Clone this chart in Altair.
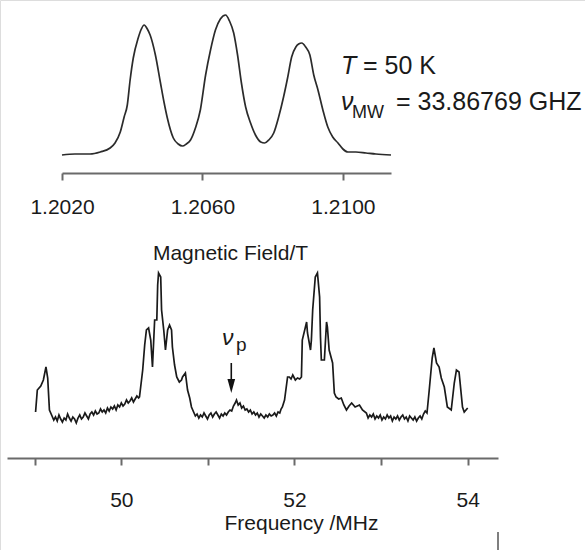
import altair as alt
import pandas as pd

# ---------------- data ----------------
# Top panel: EPR line, magnetic field (T) vs intensity (arb.)
field_T = [1.20200, 1.20237, 1.20280, 1.20309, 1.20337, 1.20351, 1.20366, 1.20377,
           1.20386, 1.20394, 1.20403, 1.20417, 1.20426, 1.20434, 1.20443, 1.20451,
           1.20466, 1.20480, 1.20491, 1.20500, 1.20517, 1.20531, 1.20543, 1.20554,
           1.20566, 1.20580, 1.20594, 1.20609, 1.20623, 1.20637, 1.20651, 1.20666,
           1.20677, 1.20689, 1.20700, 1.20711, 1.20723, 1.20737, 1.20751, 1.20766,
           1.20777, 1.20789, 1.20803, 1.20817, 1.20831, 1.20843, 1.20854, 1.20866,
           1.20874, 1.20883, 1.20894, 1.20906, 1.20917, 1.20929, 1.20943, 1.20957,
           1.20971, 1.20986, 1.21000, 1.21014, 1.21037, 1.21066, 1.21094, 1.21137]
epr_int = [0, 1, 1, 3, 7, 12, 23, 38,
           50, 75, 97, 117, 126, 130, 126, 120,
           100, 73, 52, 37, 17, 11, 9, 11,
           15, 27, 45, 80, 105, 125, 136, 140,
           134, 122, 100, 72, 48, 32, 20, 13,
           12, 15, 22, 38, 58, 78, 98, 108,
           111, 112, 108, 100, 80, 65, 45, 28,
           18, 12, 6, 3, 3, 2, 1, 0]

# Bottom panel: ENDOR spectrum, frequency (MHz) vs intensity (arb.)
freq_MHz = [
    # small line near 49.1 MHz
    49.01, 49.03, 49.07, 49.10, 49.13, 49.15, 49.17,
    # noisy baseline
    49.20, 49.22, 49.24, 49.26, 49.28, 49.30, 49.32, 49.34, 49.36, 49.38,
    49.40, 49.42, 49.44, 49.46, 49.48, 49.50, 49.52, 49.54, 49.56, 49.58,
    49.60, 49.62, 49.64, 49.66, 49.68, 49.70, 49.72, 49.74, 49.76, 49.78,
    49.80, 49.82, 49.84, 49.86, 49.88, 49.90, 49.92, 49.94, 49.96, 49.98,
    50.00, 50.02, 50.04, 50.06, 50.08, 50.10, 50.12, 50.14, 50.16, 50.18,
    50.20, 50.21,
    # line group near 50.4 MHz
    50.247, 50.27, 50.29, 50.315, 50.34, 50.36, 50.385, 50.41, 50.42, 50.43,
    50.455, 50.465, 50.49, 50.51, 50.535, 50.557, 50.58, 50.59, 50.615, 50.64,
    50.67, 50.695, 50.707, 50.74, 50.765, 50.79, 50.81,
    # noisy baseline with the nu_p bump
    50.835, 50.855, 50.875, 50.895, 50.915, 50.935, 50.955, 50.975, 50.995, 51.015,
    51.035, 51.055, 51.075, 51.095, 51.115, 51.135, 51.155, 51.175, 51.195, 51.215,
    51.235, 51.255, 51.275, 51.295, 51.315, 51.33, 51.35, 51.37, 51.39, 51.41,
    51.43, 51.45, 51.47, 51.49, 51.51, 51.53, 51.55, 51.57, 51.59, 51.61,
    51.63, 51.65, 51.67, 51.69, 51.71, 51.73, 51.75, 51.77, 51.79, 51.81,
    51.83, 51.845,
    # line group near 52.25 MHz
    51.86, 51.885, 51.92, 51.94, 51.96, 51.98, 52.01, 52.035, 52.06, 52.08,
    52.09, 52.14, 52.15, 52.185, 52.195, 52.21, 52.24, 52.265, 52.29, 52.30,
    52.31, 52.345, 52.37, 52.38, 52.40, 52.44, 52.46, 52.48, 52.51, 52.54,
    52.57, 52.60, 52.63, 52.66, 52.70, 52.75, 52.785,
    # noisy baseline
    52.83, 52.85, 52.87, 52.89, 52.91, 52.93, 52.95, 52.97, 52.99, 53.01,
    53.03, 53.05, 53.07, 53.09, 53.11, 53.13, 53.15, 53.17, 53.19, 53.21,
    53.23, 53.25, 53.27, 53.29, 53.31, 53.33, 53.35, 53.37, 53.39, 53.41,
    53.43, 53.45, 53.47, 53.49, 53.51, 53.53,
    # pair of lines near 53.6 / 53.9 MHz
    53.556, 53.59, 53.61, 53.64, 53.67, 53.695, 53.73, 53.765, 53.81, 53.845,
    53.87, 53.90, 53.94, 53.96, 54.00]
endor_int = [
    3, 25, 29, 35, 48, 37, 5,
    -1, -5, -2, -6, 0, -4, -7, -3, -5, 1,
    -3, -6, -2, -4, -8, -3, 0, -4, -2, 2,
    -1, -4, 1, 3, 0, 4, 1, 2, 6, 3,
    5, 2, 7, 4, 8, 6, 9, 5, 10, 8,
    12, 9, 11, 15, 12, 14, 17, 13, 16, 19,
    17, 18,
    45, 70, 85, 87, 75, 48, 95, 95, 130, 142,
    138, 105, 85, 65, 85, 90, 85, 68, 50, 38,
    33, 35, 38, 42, 25, 17, 8,
    3, -1, 1, -3, 0, -2, 2, -1, -4, 0,
    2, -2, 1, 3, 0, -3, 1, -1, 2, 0,
    3, 5, 4, 9, 12, 15, 10, 12, 7, 9,
    5, 6, 3, 5, 1, 3, 0, 2, -2, 1,
    -1, -3, 0, -2, 1, -1, 0, 2, -1, 3,
    2, 6,
    8, 15, 38, 38, 36, 40, 35, 37, 36, 38,
    75, 93, 82, 65, 75, 105, 138, 142, 118, 78,
    55, 55, 93, 88, 65, 52, 22, 18, 16, 17,
    10, 5, 9, 12, 8, 10, 5,
    2, -3, 0, -2, 1, -4, -1, -3, 0, -5,
    -2, -4, 0, -3, -1, -6, -2, -4, -1, -5,
    -2, 0, -4, -2, -6, -1, -3, -5, -2, -6,
    -3, -1, -4, 1, 4, 2,
    25, 57, 67, 52, 48, 37, 28, 8, 5, 32,
    45, 43, 8, 3, 7]

top_ticks = [1.2020, 1.2060, 1.2100]
bottom_ticks = [49, 50, 51, 52, 53, 54]
nu_p_MHz = [51.27]

FONT = "Liberation Sans"
INK = "#1a1a1a"
AXC = "#6a6a6a"

top_df = pd.DataFrame({"B": field_T, "I": epr_int})
bot_df = pd.DataFrame({"f": freq_MHz, "J": endor_int})

top_x = alt.Scale(domain=[1.2020, 1.21137], range=[62, 391], nice=False, zero=False)
top_y = alt.Scale(domain=[0, 140], range=[155, 15], nice=False, zero=False)
bot_x = alt.Scale(domain=[48.68, 54.35], range=[7, 498], nice=False, zero=False)
bot_y = alt.Scale(domain=[0, 142], range=[415, 273], nice=False, zero=False)

top_axis = alt.Axis(
    orient="bottom", offset=-377, values=top_ticks, format=".4f",
    domain=True, domainColor=AXC, domainWidth=2,
    ticks=True, tickColor=AXC, tickWidth=2, tickSize=7, grid=False,
    labelFont=FONT, labelFontSize=21, labelColor=INK, labelPadding=16,
    labelFlush=False, labelOverlap=False,
    title="Magnetic Field/T", titleFont=FONT, titleFontSize=21,
    titleFontWeight="normal", titleColor=INK, titleX=230, titleY=80,
    titleAlign="center", titleBaseline="middle", titleAngle=0,
)
bot_axis = alt.Axis(
    orient="bottom", offset=-92, values=bottom_ticks,
    labelExpr="datum.value % 2 == 0 ? datum.label : ''",
    domain=True, domainColor=AXC, domainWidth=2,
    ticks=True, tickColor=AXC, tickWidth=2, tickSize=7, grid=False,
    labelFont=FONT, labelFontSize=21, labelColor=INK, labelPadding=24,
    labelFlush=False, labelOverlap=False,
    title="Frequency /MHz", titleFont=FONT, titleFontSize=21,
    titleFontWeight="normal", titleColor=INK, titleX=301, titleY=65,
    titleAlign="center", titleBaseline="middle", titleAngle=0,
)

top_line = alt.Chart(top_df).mark_line(
    color="#2b2b2b", strokeWidth=1.7, interpolate="monotone"
).encode(
    x=alt.X("B:Q", scale=top_x, axis=top_axis),
    y=alt.Y("I:Q", scale=top_y, axis=None),
)

bot_line = alt.Chart(bot_df).mark_line(
    color=INK, strokeWidth=1.7, interpolate="linear"
).encode(
    x=alt.X("f:Q", scale=bot_x, axis=bot_axis),
    y=alt.Y("J:Q", scale=bot_y, axis=None),
)

arrow_df = pd.DataFrame({"f": nu_p_MHz})
arrow_shaft = alt.Chart(arrow_df).mark_rule(color="#111", strokeWidth=1.6).encode(
    x=alt.X("f:Q", scale=bot_x, axis=None),
    y=alt.value(363), y2=alt.value(381),
)
arrow_head = alt.Chart(arrow_df).mark_point(
    shape="M-0.55,-1L0.55,-1L0,1Z", size=196, filled=True, color="#111", opacity=1
).encode(
    x=alt.X("f:Q", scale=bot_x, axis=None),
    y=alt.value(386),
)


def label(text, x, y, size, italic=False):
    return alt.Chart(alt.Data(values=[{}])).mark_text(
        text=text, font=FONT, fontSize=size, color=INK,
        fontStyle="italic" if italic else "normal",
        align="left", baseline="alphabetic",
    ).encode(x=alt.value(x), y=alt.value(y))


texts = [
    label("T", 341, 74, 25, italic=True),
    label("= 50 K", 363, 74, 25),
    label("ν", 341, 110, 25, italic=True),
    label("MW", 352, 118, 18),
    label("= 33.86769 GHZ", 396, 110, 25),
    label("ν", 222, 345, 23, italic=True),
    label("p", 236, 351, 19),
]

edge_mark = alt.Chart(alt.Data(values=[{}])).mark_rule(color="#555", strokeWidth=1.5).encode(
    x=alt.value(498), y=alt.value(532), y2=alt.value(550)
)

chart = alt.layer(
    top_line, bot_line, arrow_shaft, arrow_head, edge_mark, *texts
).resolve_scale(
    x="independent", y="independent"
).resolve_axis(
    x="independent", y="independent"
).properties(
    width=585, height=550, padding=0, autosize=alt.AutoSizeParams(type="none")
).configure_view(
    stroke=None
).configure(background="white")

chart.save("out.html", embed_options={"renderer": "svg", "actions": False})
